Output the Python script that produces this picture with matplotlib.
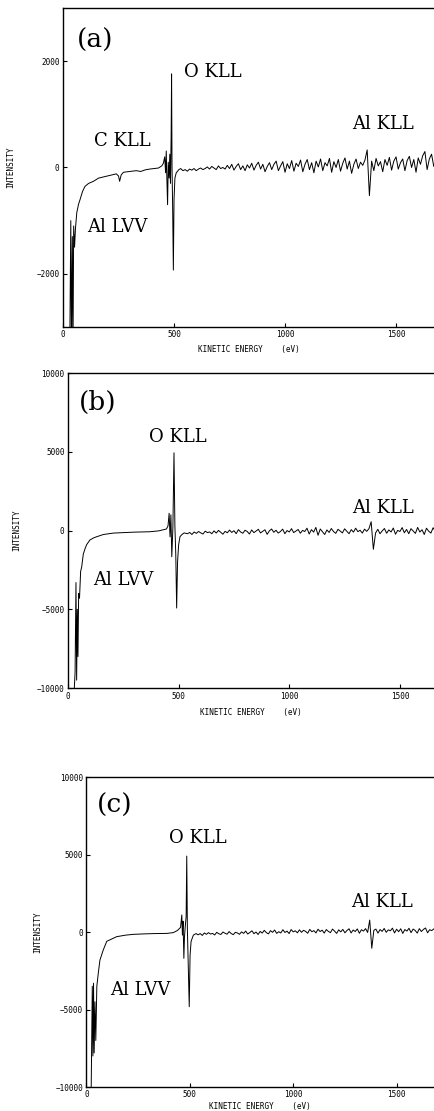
import numpy as np
from matplotlib import pyplot as plt

''' Auger spectra (a), (b), (c): intensity vs kinetic energy '''

# ---- low energy part (Al LVV, C KLL, O KLL), read point by point ----
energy_a = [30, 35, 38, 42, 45, 48, 52, 56, 62, 70, 77, 88, 99, 115, 137, 160,
            190, 225, 240, 250, 255, 262, 272, 290, 310, 330, 350, 370, 390,
            410, 430, 445, 452, 458, 462, 465, 468, 471, 474, 478, 481, 484,
            487, 489, 491, 494, 497, 500, 504, 510, 516, 522, 530]
intensity_a = [-3600, -1000, -3500, -1300, -3400, -1100, -1500, -1150, -850,
               -690, -600, -450, -355, -300, -260, -200, -170, -133, -120,
               -160, -260, -140, -90, -80, -70, -60, -75, -45, -30, -20, -10,
               30, 80, 200, -100, 310, -250, -700, 100, -200, 250, -300, 600,
               1760, 0, -800, -1930, -600, -200, -100, -70, -40, -20]

energy_b = [25, 32, 36, 39, 42, 45, 48, 52, 57, 62, 69, 77, 84, 99, 115, 130,
            160, 205, 250, 300, 370, 410, 430, 445, 452, 457, 461, 465, 469,
            474, 479, 483, 487, 491, 495, 500, 506, 515, 525]
intensity_b = [-11000, -9000, -3300, -9500, -5000, -8000, -4000, -4300, -2600,
               -2300, -1500, -1150, -900, -600, -470, -390, -250, -160, -130,
               -100, -75, -20, 50, 100, 300, 1100, -400, 1000, -1660, 200,
               4940, 300, -1500, -4920, -2000, -900, -390, -250, -150]

energy_c = [22, 28, 31, 34, 37, 41, 45, 50, 57, 65, 81, 98, 106, 146, 190, 227,
            280, 330, 388, 420, 440, 455, 461, 464, 467, 471, 474, 478, 482,
            485, 488, 492, 497, 501, 506, 517, 530]
intensity_c = [-11000, -3500, -8000, -3300, -7800, -4500, -7000, -3500, -2660,
               -1810, -1160, -600, -550, -300, -200, -150, -120, -100, -90,
               -40, 100, 300, 1100, -200, 700, -1700, -300, 400, 1000, 4900,
               200, -2000, -4820, -1500, -600, -200, -100]

# ---- high energy part (noisy baseline + Al KLL), every 10 eV from 540 eV ----
tail_energy = list(range(540, 1690, 10))

tail_a = [-60, -40, -70, -30, -50, -20, -60, -30, -10, -40,
          -20, 10, -30, 20, -10, -40, 30, -20, 0, -30,
          40, -20, 60, -50, 20, 70, -40, 30, -60, 50,
          -10, 80, -50, 40, 100, -30, 60, -80, 20, 90,
          -40, 60, 120, -60, 30, 110, -90, 70, -20, 130,
          -70, 80, 20, 140, -80, 60, 150, -40, 90, -100,
          120, 10, 160, -60, 90, 30, 170, -90, 110, 0,
          150, -70, 80, 180, -30, 120, -110, 60, 160, -20,
          100, 40, 140, 330, -530, 120, -60, 170, 30, 110,
          -80, 150, 40, 190, -50, 120, 200, -30, 90, 160,
          -60, 130, 210, 0, 150, -90, 180, 60, 220, 300,
          -40, 160, 250, 20, 190]

tail_b = [-200, -120, -250, -90, -180, -60, -150, -220, -40, -130,
          -90, -200, -20, -160, 10, -110, -230, -50, -140, 30,
          -120, -10, -200, 60, -90, -170, 20, -60, -220, 40,
          -130, -30, 80, -150, -50, 50, -240, -20, 100, -110,
          20, -160, -60, 90, -200, 0, -90, 120, -130, -30,
          70, -170, 10, -60, 150, -220, 60, -100, 200, -300,
          100, -80, -250, 40, -120, 130, -60, -180, 80, -30,
          -150, 110, -40, -200, 60, -100, 150, -70, 20, -160,
          90, -50, 120, 560, -1190, -150, 80, -200, -20, 130,
          -170, 40, -90, 160, -230, 10, -60, 190, -140, 70,
          -200, 120, -30, -180, 200, -90, 50, -250, 150, -40,
          -160, 180, -60, 100, -120]

tail_c = [-180, -100, -220, -60, -150, -40, -130, -90, -190, -20,
          -110, -160, 0, -80, -140, 30, -100, -170, -20, -60,
          -150, 10, -90, 60, -130, -30, 80, -110, 0, -160,
          40, -70, 110, -40, -120, 90, -20, 130, -90, 20,
          -60, 150, -30, 60, -100, 160, 10, 80, -50, 140,
          -20, 110, 40, -80, 170, 20, 90, -60, 180, 30,
          120, -70, 160, 40, -40, 190, 60, -90, 140, 10,
          170, -50, 100, 210, -60, 130, 30, 200, -80, 150,
          60, 220, -30, 770, -1050, 110, 190, -70, 160, 40,
          230, -20, 140, 80, 250, -60, 180, 20, 210, -90,
          160, 60, 240, -40, 190, 100, -70, 220, 30, 170,
          260, -50, 150, 90, 200]

serif = 'DejaVu Serif'
mono = 'DejaVu Sans Mono'


def draw_panel(ax, energy, intensity, tail, ylim, yticks, xmax, tag, labels,
               xlabel_y=-0.055):
    x = np.concatenate([energy, tail_energy])
    y = np.concatenate([intensity, tail])
    ax.plot(x, y, color='black', lw=0.7)

    ax.set_xlim(0, xmax)
    ax.set_ylim(*ylim)
    ax.set_xticks([0, 500, 1000, 1500])
    ax.set_yticks(yticks)
    ax.tick_params(direction='in', length=3, width=0.8, pad=2.5, labelsize=5.5)
    for lab in ax.get_xticklabels() + ax.get_yticklabels():
        lab.set_family(mono)
    for side in ['left', 'top', 'bottom']:
        ax.spines[side].set_linewidth(1.0)
    ax.spines['right'].set_visible(False)

    ax.set_xlabel('KINETIC ENERGY    (eV)', fontsize=5.5, family=mono)
    ax.set_ylabel('INTENSITY', fontsize=5.5, family=mono)
    ax.xaxis.set_label_coords(0.5, xlabel_y)
    ax.yaxis.set_label_coords(-0.128, 0.5)

    ax.text(tag[0], tag[1], tag[2], fontsize=19, family=serif,
            ha='center', va='center')
    for xt, yt, s in labels:
        ax.text(xt, yt, s, fontsize=13, family=serif, ha='center', va='center')


fig = plt.figure(figsize=(4.34, 11.11), dpi=100)
ax_a = fig.add_axes([0.1452, 0.7057, 0.8548, 0.2871])
ax_b = fig.add_axes([0.1567, 0.3807, 0.8433, 0.2835])
ax_c = fig.add_axes([0.1993, 0.0216, 0.8007, 0.2790])

draw_panel(ax_a, energy_a, intensity_a, tail_a, (-3000, 3000),
           [-2000, 0, 2000], 1671, (144, 2390, '(a)'),
           [(676, 1800, 'O KLL'), (266, 493, 'C KLL'),
            (243, -1120, 'Al LVV'), (1441, 815, 'Al KLL')],
           xlabel_y=-0.055)
draw_panel(ax_b, energy_b, intensity_b, tail_b, (-10000, 10000),
           [-10000, -5000, 0, 5000, 10000], 1654, (136, 8160, '(b)'),
           [(497, 5940, 'O KLL'), (249, -3140, 'Al LVV'),
            (1423, 1430, 'Al KLL')],
           xlabel_y=-0.062)
draw_panel(ax_c, energy_c, intensity_c, tail_c, (-10000, 10000),
           [-10000, -5000, 0, 5000, 10000], 1681, (138, 8190, '(c)'),
           [(539, 6060, 'O KLL'), (259, -3740, 'Al LVV'),
            (1430, 1935, 'Al KLL')],
           xlabel_y=-0.048)

plt.savefig('out.png', dpi=100)
plt.close()
